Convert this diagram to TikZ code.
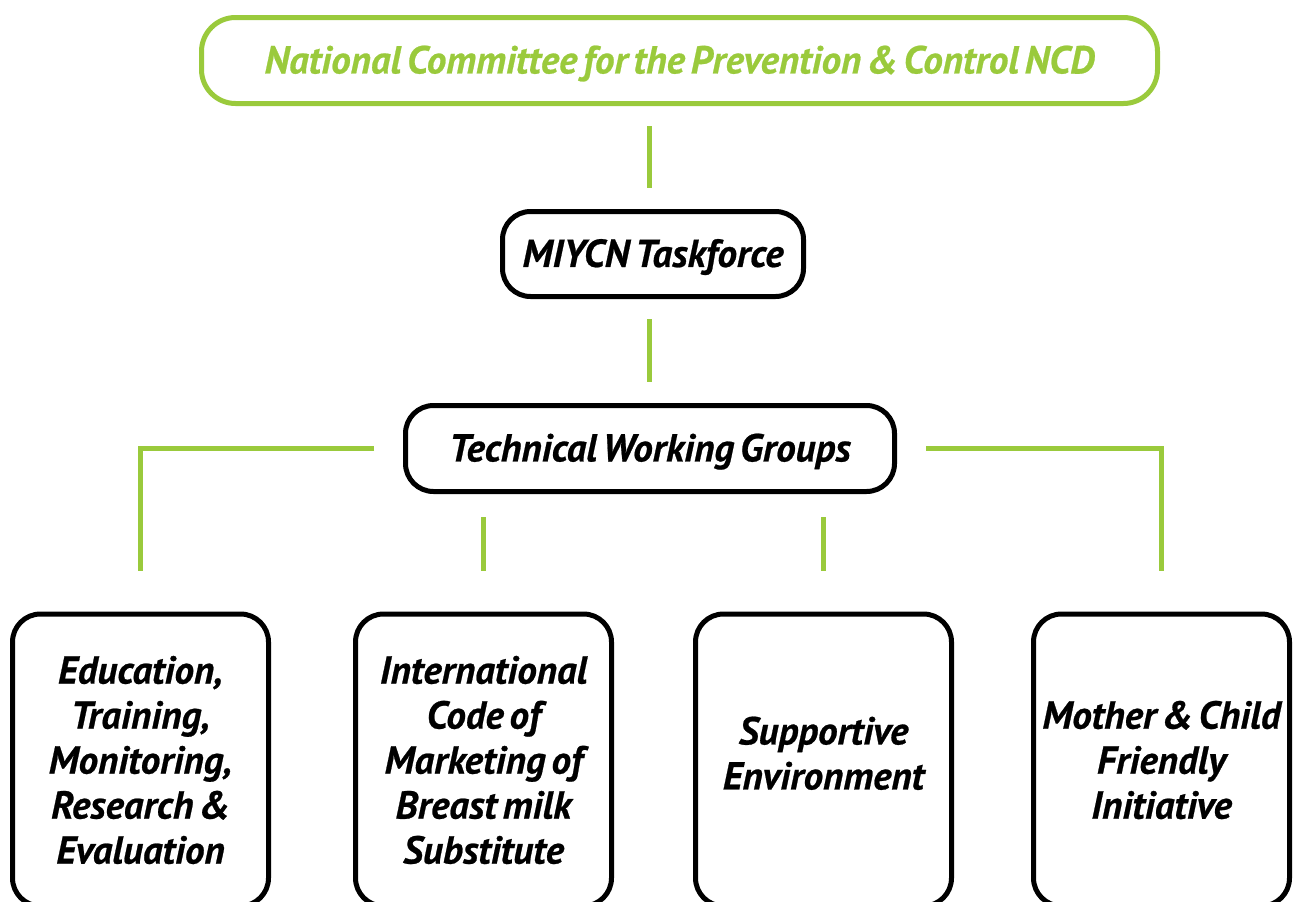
\documentclass[tikz,border=0pt]{standalone}
\usepackage{fontspec}
\setmainfont{PT Sans}[WordSpace=0.6,BoldItalicFeatures={FakeBold=0.6}]
\definecolor{leaf}{HTML}{9ACA3C}

\begin{document}
\begin{tikzpicture}[x=1pt,y=-1pt,
    every node/.style={font=\fontsize{39}{45}\selectfont\bfseries\itshape},
    unit/.style={draw,line width=5pt,rounded corners=28pt,align=center,inner sep=0pt},
    single/.style={unit,text depth=2pt},
    group/.style={unit,minimum width=256pt,minimum height=292pt},
    link/.style={leaf,line width=5pt}]
    \useasboundingbox (0,0) rectangle (1296,902);
    \clip (0,0) rectangle (1296,902);

    \node[single, leaf, rounded corners=34pt, minimum width=956pt, minimum height=86pt] (ncd) at (679.5,60.5)
        {National Committee for the Prevention \& Control NCD};
    \node[single, minimum width=301pt, minimum height=85pt] (miycn) at (653,254) {MIYCN Taskforce};
    \node[single, minimum width=489pt, minimum height=86pt] (twg) at (650,448.5) {Technical Working Groups};

    \node[group] (edu) at (140.5,760) {Education,\\Training,\\Monitoring,\\Research \&\\Evaluation};
    \node[group] (code) at (483.5,760) {International\\Code of\\Marketing of\\Breast milk\\Substitute};
    \node[group] (env) at (823.5,760) {Supportive\\Environment\\[-31pt]};
    \node[group] (mcfi) at (1161.5,760) {Mother \& Child\\Friendly\\Initiative};

    \draw[link, shorten <=20pt, shorten >=21pt] (ncd.south -| 649,0) -- (miycn.north -| 649,0);
    \draw[link, shorten <=20pt, shorten >=21pt] (miycn.south -| 649,0) -- (twg.north -| 649,0);
    \draw[link, shorten <=29pt, shorten >=41pt] (twg.west) -| (edu.north);
    \draw[link, shorten <=29pt, shorten >=41pt] (twg.east) -| (mcfi.north);
    \draw[link, shorten <=23pt, shorten >=41pt] (twg.south -| code.north) -- (code.north);
    \draw[link, shorten <=23pt, shorten >=41pt] (twg.south -| env.north) -- (env.north);
\end{tikzpicture}
\end{document}
